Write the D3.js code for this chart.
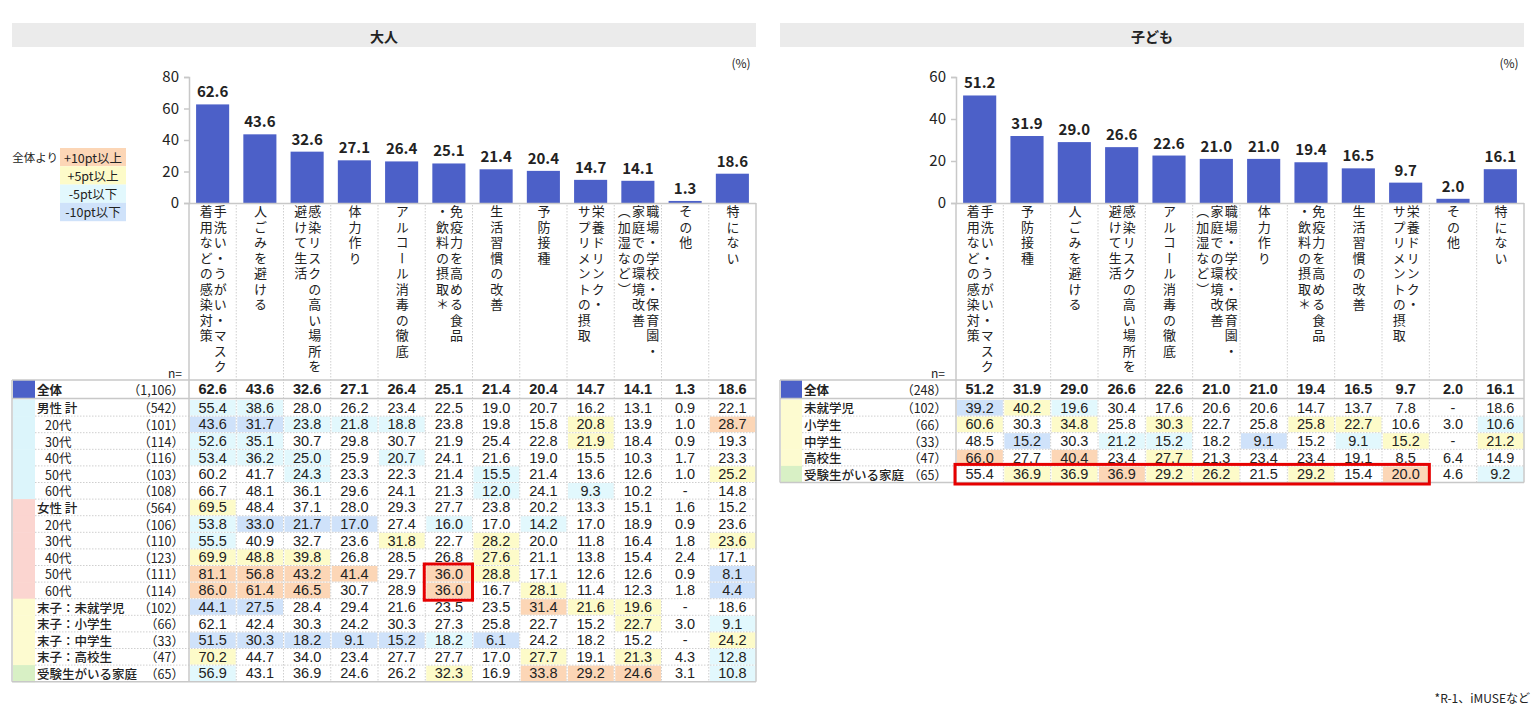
<!DOCTYPE html>
<html><head><meta charset="utf-8">
<script src="https://cdn.jsdelivr.net/npm/d3@7"></script>
<style>
body{margin:0;background:#fff;}
#wrap{position:relative;width:1536px;height:707px;overflow:hidden;}
svg{display:block;position:absolute;left:0;top:0;}
text{font-family:'Noto Sans CJK JP','Noto Sans',sans-serif;fill:#222;}
text.num{font-family:'Liberation Sans',Arial,sans-serif;}
.vlab{position:absolute;writing-mode:vertical-rl;font-family:'Noto Sans CJK JP',sans-serif;font-size:13px;line-height:14.2px;letter-spacing:2.5px;white-space:pre;color:#222;}
</style>
</head><body><div id="wrap"><svg id="chart" width="1536" height="707"></svg></div>
<script>
// ---------------- DATA ----------------
const adultCategories = ["手洗い・うがい・マスク\n着用などの感染対策","人ごみを避ける","感染リスクの高い場所を\n避けて生活","体力作り","アルコール消毒の徹底","免疫力を高める食品\n・飲料の摂取＊","生活習慣の改善","予防接種","栄養ドリンク・\nサプリメントの摂取","職場・学校・保育園・\n家庭での環境改善\n（加湿など）","その他","特にない"];
const adultTotal = [62.6,43.6,32.6,27.1,26.4,25.1,21.4,20.4,14.7,14.1,1.3,18.6];
const adultTotalN = "1,106";
const adultRowLabels = ["男性 計","20代","30代","40代","50代","60代","女性 計","20代","30代","40代","50代","60代","末子：未就学児","末子：小学生","末子：中学生","末子：高校生","受験生がいる家庭"];
const adultRowSub = [0,1,1,1,1,1,0,1,1,1,1,1,0,0,0,0,0];
const adultRowGroups = ["male","male","male","male","male","male","female","female","female","female","female","female","child","child","child","child","exam"];
const adultRowN = ["542","101","114","116","103","108","564","106","110","123","111","114","102","66","33","47","65"];
const adultRowValues = [
  [55.4,38.6,28.0,26.2,23.4,22.5,19.0,20.7,16.2,13.1,0.9,22.1],
  [43.6,31.7,23.8,21.8,18.8,23.8,19.8,15.8,20.8,13.9,1.0,28.7],
  [52.6,35.1,30.7,29.8,30.7,21.9,25.4,22.8,21.9,18.4,0.9,19.3],
  [53.4,36.2,25.0,25.9,20.7,24.1,21.6,19.0,15.5,10.3,1.7,23.3],
  [60.2,41.7,24.3,23.3,22.3,21.4,15.5,21.4,13.6,12.6,1.0,25.2],
  [66.7,48.1,36.1,29.6,24.1,21.3,12.0,24.1,9.3,10.2,null,14.8],
  [69.5,48.4,37.1,28.0,29.3,27.7,23.8,20.2,13.3,15.1,1.6,15.2],
  [53.8,33.0,21.7,17.0,27.4,16.0,17.0,14.2,17.0,18.9,0.9,23.6],
  [55.5,40.9,32.7,23.6,31.8,22.7,28.2,20.0,11.8,16.4,1.8,23.6],
  [69.9,48.8,39.8,26.8,28.5,26.8,27.6,21.1,13.8,15.4,2.4,17.1],
  [81.1,56.8,43.2,41.4,29.7,36.0,28.8,17.1,12.6,12.6,0.9,8.1],
  [86.0,61.4,46.5,30.7,28.9,36.0,16.7,28.1,11.4,12.3,1.8,4.4],
  [44.1,27.5,28.4,29.4,21.6,23.5,23.5,31.4,21.6,19.6,null,18.6],
  [62.1,42.4,30.3,24.2,30.3,27.3,25.8,22.7,15.2,22.7,3.0,9.1],
  [51.5,30.3,18.2,9.1,15.2,18.2,6.1,24.2,18.2,15.2,null,24.2],
  [70.2,44.7,34.0,23.4,27.7,27.7,17.0,27.7,19.1,21.3,4.3,12.8],
  [56.9,43.1,36.9,24.6,26.2,32.3,16.9,33.8,29.2,24.6,3.1,10.8]
];
// O: +10pt以上, Y: +5pt以上, C: -5pt以下, B: -10pt以下
const adultRowLevels = [
  "CC..........","BBCCC...Y..O","CC......Y...","CCC.C.......","..C...C....Y","......C.C...",
  "Y...........","CBBB.C.C....","C...Y.Y....Y","YYY...Y.....","OOOO.OY....B","OOO..O.Y...B",
  "BB.....OYY..",".........Y.C","BBBBBCB....Y","Y......Y.Y.C","C....Y.OOO.C"
];
const adultMarked = {cols:[5,5], rows:[10,11]};

const childCategories = ["手洗い・うがい・マスク\n着用などの感染対策","予防接種","人ごみを避ける","感染リスクの高い場所を\n避けて生活","アルコール消毒の徹底","職場・学校・保育園・\n家庭での環境改善\n（加湿など）","体力作り","免疫力を高める食品\n・飲料の摂取＊","生活習慣の改善","栄養ドリンク・\nサプリメントの摂取","その他","特にない"];
const childTotal = [51.2,31.9,29.0,26.6,22.6,21.0,21.0,19.4,16.5,9.7,2.0,16.1];
const childTotalN = "248";
const childRowLabels = ["未就学児","小学生","中学生","高校生","受験生がいる家庭"];
const childRowSub = [0,0,0,0,0];
const childRowGroups = ["child","child","child","child","exam"];
const childRowN = ["102","66","33","47","65"];
const childRowValues = [
  [39.2,40.2,19.6,30.4,17.6,20.6,20.6,14.7,13.7,7.8,null,18.6],
  [60.6,30.3,34.8,25.8,30.3,22.7,25.8,25.8,22.7,10.6,3.0,10.6],
  [48.5,15.2,30.3,21.2,15.2,18.2,9.1,15.2,9.1,15.2,null,21.2],
  [66.0,27.7,40.4,23.4,27.7,21.3,23.4,23.4,19.1,8.5,6.4,14.9],
  [55.4,36.9,36.9,36.9,29.2,26.2,21.5,29.2,15.4,20.0,4.6,9.2]
];
const childRowLevels = ["BYC.........","Y.Y.Y..YY..C",".B.CC.B.CY.Y","O.O.Y.......",".YYOYY.Y.O.C"];
const childMarked = {cols:[0,9], rows:[4,4]};

const legendItems = [["O","+10pt以上"],["Y","+5pt以上"],["C","-5pt以下"],["B","-10pt以下"]];

// ---------------- STYLE ----------------
const BAR = "#4c60c8";
const levelColor = {O:"#fcd6b6", Y:"#fdfbc9", C:"#e2f8fd", B:"#cfe2fa"};
const groupColor = {total:BAR, male:"#dcf5fb", female:"#fbd5d0", child:"#fdfbd0", exam:"#d8f0c5"};
const GRID = "#c8c8c8", DOT = "#cfcfcf";

const svg = d3.select("#chart");
const wrap = d3.select("#wrap");

function fmt(v){ return v==null ? "-" : v.toFixed(1); }

function drawPanel(cfg){
  const g = svg.append("g");
  const n = cfg.categories.length;
  const x = d3.scaleBand().domain(d3.range(n)).range([cfg.dataX0, cfg.right]).paddingInner(0.3).paddingOuter(0.15);
  const step = x.step();
  const colX = i => cfg.dataX0 + i*step;
  const y = d3.scaleLinear().domain([0, cfg.yMax]).range([203, 77]);

  // header
  g.append("rect").attr("x", cfg.left).attr("y", 23).attr("width", cfg.right - cfg.left).attr("height", 24).attr("fill", "#ebebeb");
  g.append("text").attr("x", (cfg.left+cfg.right)/2).attr("y", 36).attr("text-anchor","middle").attr("dominant-baseline","central")
    .attr("font-size", 14).attr("font-weight", "bold").text(cfg.title);
  g.append("text").attr("x", cfg.right - 15).attr("y", 62).attr("text-anchor","middle").attr("dominant-baseline","central")
    .attr("font-size", 12).text("(%)");

  // axis
  const ax = g.append("g").attr("transform", `translate(${cfg.dataX0},0)`)
    .call(d3.axisLeft(y).tickValues(d3.range(0, cfg.yMax+1, 20)).tickSize(5).tickPadding(5).tickFormat(d3.format("d")));
  ax.select(".domain").attr("stroke", GRID).attr("stroke-width", 1.5);
  ax.selectAll(".tick line").attr("stroke", GRID).attr("stroke-width", 1.5);
  ax.selectAll(".tick text").attr("font-size", 15).attr("fill", "#333").style("font-family","'Noto Sans CJK JP','Noto Sans',sans-serif");

  // bars
  g.selectAll(".bar").data(cfg.total).enter().append("rect")
    .attr("x", (d,i) => x(i)).attr("width", x.bandwidth())
    .attr("y", d => y(d)).attr("height", d => y(0) - y(d)).attr("fill", BAR);
  g.selectAll(".blab").data(cfg.total).enter().append("text")
    .attr("x", (d,i) => x(i) + x.bandwidth()/2).attr("y", d => y(d) - 7)
    .attr("text-anchor","middle").attr("font-size", 15).attr("font-weight","bold").attr("fill","#222").text(d => fmt(d));

  // baseline
  g.append("line").attr("x1", cfg.dataX0).attr("x2", cfg.right).attr("y1", y(0)+0.5).attr("y2", y(0)+0.5).attr("stroke", GRID).attr("stroke-width", 1.5);

  // table geometry
  const totTop = 380, totBot = 398.5, rowStart = 399.5, rowH = 16.6;
  const nRows = cfg.rowLabels.length;
  const tableBot = rowStart + nRows*rowH;
  const rowY = r => rowStart + r*rowH;

  // strips
  g.append("rect").attr("x", cfg.left+1).attr("y", totTop).attr("width", cfg.stripW).attr("height", totBot-totTop).attr("fill", groupColor.total);
  g.selectAll(".strip").data(cfg.rowGroups).enter().append("rect")
    .attr("x", cfg.left+1).attr("y", (d,i) => rowY(i)).attr("width", cfg.stripW).attr("height", rowH+0.5)
    .attr("fill", d => groupColor[d]);

  // cell highlights
  cfg.rowLevels.forEach((lv, r) => {
    lv.split("").forEach((c, i) => {
      if (c !== ".") g.append("rect").attr("x", colX(i)+1).attr("y", rowY(r)+0.5).attr("width", step-1.5).attr("height", rowH-1).attr("fill", levelColor[c]);
    });
  });

  // dotted grid
  for (let i = 1; i < n; i++) {
    g.append("line").attr("x1", colX(i)).attr("x2", colX(i)).attr("y1", 205).attr("y2", tableBot)
      .attr("stroke", DOT).attr("stroke-dasharray", "1.5,1.5");
  }
  for (let r = 1; r < nRows; r++) {
    g.append("line").attr("x1", cfg.left+1+cfg.stripW).attr("x2", cfg.right).attr("y1", rowY(r)).attr("y2", rowY(r))
      .attr("stroke", DOT).attr("stroke-dasharray", "1.5,1.5");
  }
  // solid lines
  const solid = (x1,y1,x2,y2,w) => g.append("line").attr("x1",x1).attr("y1",y1).attr("x2",x2).attr("y2",y2).attr("stroke", GRID).attr("stroke-width", w||1.5);
  solid(cfg.left, totTop, cfg.right, totTop);
  solid(cfg.left, totBot, cfg.right, totBot);
  solid(cfg.left, tableBot, cfg.right, tableBot);
  solid(cfg.left, totTop, cfg.left, tableBot);
  solid(cfg.right, 203, cfg.right, tableBot);
  solid(cfg.dataX0, 203, cfg.dataX0, tableBot);

  // vertical category labels (HTML, vertical writing)
  cfg.categories.forEach((lab, i) => {
    const nl = lab.split("\n").length;
    const cx = colX(i) + step/2;
    wrap.append("div").attr("class","vlab")
      .style("left", (cx - nl*14.2/2) + "px").style("top", "205px")
      .text(lab);
  });

  // n=
  g.append("text").attr("x", cfg.nRight - 2).attr("y", 372).attr("text-anchor","end").attr("dominant-baseline","central").attr("font-size", 12).text("n=");

  // total row
  const tc = (totTop+totBot)/2;
  g.append("text").attr("x", cfg.labelX).attr("y", tc).attr("dominant-baseline","central").attr("font-size", 12.5).attr("font-weight","bold").text("全体");
  g.append("text").attr("x", cfg.nRight).attr("y", tc).attr("text-anchor","end").attr("dominant-baseline","central").attr("font-size", 12.5).attr("fill","#444").text("（" + cfg.totalN + "）");
  g.selectAll(".tv").data(cfg.total).enter().append("text").attr("class","num")
    .attr("x", (d,i) => colX(i) + step/2).attr("y", tc).attr("text-anchor","middle").attr("dominant-baseline","central")
    .attr("font-size", 14.5).attr("font-weight","bold").text(d => fmt(d));

  // rows
  cfg.rowLabels.forEach((lab, r) => {
    const cy = rowY(r) + rowH/2;
    g.append("text").attr("x", cfg.labelX + (cfg.rowSub[r] ? 8 : 0)).attr("y", cy).attr("dominant-baseline","central").attr("font-size", 12.5)
      .attr("font-weight", cfg.rowSub[r] ? "normal" : "500").text(lab);
    g.append("text").attr("x", cfg.nRight).attr("y", cy).attr("text-anchor","end").attr("dominant-baseline","central").attr("font-size", 12.5).attr("fill","#444").text("（" + cfg.rowN[r] + "）");
    g.selectAll(null).data(cfg.rowValues[r]).enter().append("text").attr("class","num")
      .attr("x", (d,i) => colX(i) + step/2).attr("y", cy).attr("text-anchor","middle").attr("dominant-baseline","central")
      .attr("font-size", 14.5).attr("fill","#333").text(d => fmt(d));
  });

  // red mark
  const m = cfg.marked;
  g.append("rect").attr("x", colX(m.cols[0]) - 1).attr("y", rowY(m.rows[0]) - 1.5)
    .attr("width", (m.cols[1]-m.cols[0]+1)*step + 1).attr("height", (m.rows[1]-m.rows[0]+1)*rowH + 3)
    .attr("fill","none").attr("stroke","#e60000").attr("stroke-width", 3);

  // legend
  if (cfg.legend) {
    const lg = g.append("g");
    lg.append("text").attr("x", 58).attr("y", 157).attr("text-anchor","end").attr("dominant-baseline","central").attr("font-size", 11.5).text("全体より");
    legendItems.forEach((it, k) => {
      lg.append("rect").attr("x", 60).attr("y", 148 + k*18.3).attr("width", 66).attr("height", 18.3).attr("fill", levelColor[it[0]]);
      lg.append("text").attr("x", 93).attr("y", 157 + k*18.3).attr("text-anchor","middle").attr("dominant-baseline","central").attr("font-size", 12.5).text(it[1]);
    });
  }
}

drawPanel({title:"大人", left:12, right:756, stripW:22, labelX:37, nRight:184, dataX0:189, yMax:80,
  categories:adultCategories, total:adultTotal, totalN:adultTotalN, rowLabels:adultRowLabels, rowSub:adultRowSub,
  rowGroups:adultRowGroups, rowN:adultRowN, rowValues:adultRowValues, rowLevels:adultRowLevels, marked:adultMarked, legend:true});
drawPanel({title:"子ども", left:780, right:1524, stripW:21, labelX:804, nRight:947, dataX0:956, yMax:60,
  categories:childCategories, total:childTotal, totalN:childTotalN, rowLabels:childRowLabels, rowSub:childRowSub,
  rowGroups:childRowGroups, rowN:childRowN, rowValues:childRowValues, rowLevels:childRowLevels, marked:childMarked, legend:false});

svg.append("text").attr("x", 1530).attr("y", 697).attr("text-anchor","end").attr("dominant-baseline","central").attr("font-size", 12).text("*R-1、iMUSEなど");
</script></body></html>
